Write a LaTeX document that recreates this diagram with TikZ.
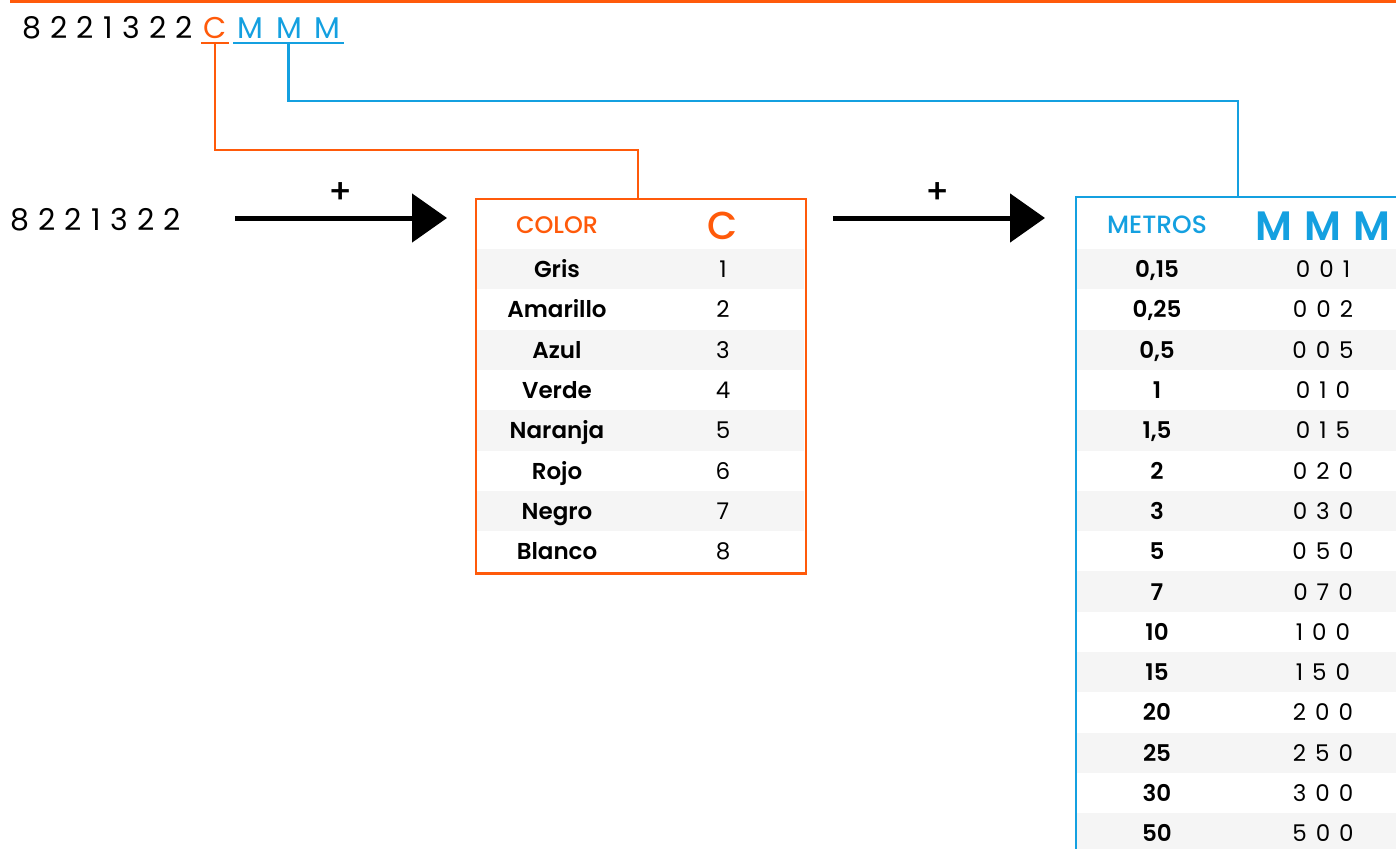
\documentclass[tikz,border=0pt]{standalone}
\usepackage{fontspec}
\setmainfont{Poppins}[BoldFont={Poppins SemiBold}]
\newfontfamily\medfont{Poppins Medium}
\usetikzlibrary{arrows.meta}
\definecolor{org}{HTML}{FF5A0A}
\definecolor{blu}{HTML}{14A0E0}
\definecolor{rowg}{HTML}{F5F5F5}
\tikzset{
  codetxt/.style={inner sep=0, font=\fontsize{30}{30}\selectfont, execute at begin node={\spaceskip=9.3pt\relax}},
  rowtxt/.style={inner sep=0, anchor=base, font=\fontsize{23}{23}\selectfont\bfseries},
  numtxt/.style={inner sep=0, anchor=base, font=\fontsize{23}{23}\selectfont, execute at begin node={\spaceskip=9pt\relax}},
  hdrtxt/.style={inner sep=0, anchor=base, font=\medfont\fontsize{24}{24}\selectfont},
  bigarrow/.style={line width=5, -{Triangle[length=35pt,width=48pt]}},
  orgline/.style={org, line width=2.5},
  bluline/.style={blu, line width=2.5},
  plus/.style={inner sep=0, font=\medfont\fontsize{34}{34}\selectfont}
}
\begin{document}
\begin{tikzpicture}[x=1pt,y=-1pt]
\useasboundingbox (0,0) rectangle (1396,848);
\clip (0,0) rectangle (1396,848);
% top rule
\draw[orgline] (10,1.3) -- (1400,1.3);
% code
\node[codetxt, anchor=base west] (code) at (22,39) {8 2 2 1 3 2 2};
\node[codetxt, anchor=base, text=org] (cC) at (215,39) {C};
\node[codetxt, anchor=base, text=blu] (cM1) at (250,39) {M};
\node[codetxt, anchor=base, text=blu] (cM2) at (289,39) {M};
\node[codetxt, anchor=base, text=blu] (cM3) at (327,39) {M};
\coordinate (uC) at (215,43);
\coordinate (uM) at (288.5,43);
\draw[orgline] (201,43) -- (229,43);
\draw[bluline] (233,43) -- (344,43);
% source number
\node[codetxt, anchor=base west] (src) at (10,230) {8 2 2 1 3 2 2};
% orange table rows
\foreach \i in {0,2,4,6} \fill[rowg] (475,{249+40.3*\i}) rectangle (804,{249+40.3*(\i+1)});
\node[draw=org, line width=2.5, minimum width=330, minimum height=374.5, anchor=north west, inner sep=0] (tabC) at (474.5,197.5) {};
\node[hdrtxt, text=org] (hColor) at (557,233) {COLOR};
\node[hdrtxt, text=org, font=\medfont\fontsize{39}{39}\selectfont] (hC) at (723,239) {C};
\foreach \n/\v [count=\i from 0] in {Gris/1,Amarillo/2,Azul/3,Verde/4,Naranja/5,Rojo/6,Negro/7,Blanco/8}{
  \node[rowtxt] (oL\i) at (557,{249+40.3*(\i+0.5)+8.5}) {\n};
  \node[numtxt] (oR\i) at (723,{249+40.3*(\i+0.5)+8.5}) {\v};
}
% blue table rows
\foreach \i in {0,2,4,6,8,10,12,14} \fill[rowg] (1075,{249+40.3*\i}) rectangle (1400,{249+40.3*(\i+1)});
\node[draw=blu, line width=2.5, minimum width=340, minimum height=700, anchor=north west, inner sep=0] (tabM) at (1074.5,195.5) {};
\node[hdrtxt, text=blu, font=\medfont\fontsize{25}{25}\selectfont] (hMet) at (1157,233) {METROS};
\node[hdrtxt, text=blu, font=\fontsize{41}{41}\selectfont\bfseries, execute at begin node={\spaceskip=12pt\relax}] (hM) at (1323,240) {M M M};
\foreach \n/\v [count=\i from 0] in {{0,15}/{0 0 1},{0,25}/{0 0 2},{0,5}/{0 0 5},1/{0 1 0},{1,5}/{0 1 5},2/{0 2 0},3/{0 3 0},5/{0 5 0},7/{0 7 0},10/{1 0 0},15/{1 5 0},20/{2 0 0},25/{2 5 0},30/{3 0 0},50/{5 0 0}}{
  \node[rowtxt] (bL\i) at (1157,{249+40.3*(\i+0.5)+8.5}) {\n};
  \node[numtxt] (bR\i) at (1323,{249+40.3*(\i+0.5)+8.5}) {\v};
}
% connectors
\draw[orgline] (uC) -- (215,150) -| (tabC.north -| 638,0);
\draw[bluline] (uM) -- (288.5,101) -| (tabM.north -| 1238,0);
% arrows
\draw[bigarrow] (235,218) -- (447,218);
\node[plus] (p1) at (341,193) {+};
\draw[bigarrow] (833,218) -- (1045,218);
\node[plus] (p2) at (938,193) {+};
\end{tikzpicture}
\end{document}
